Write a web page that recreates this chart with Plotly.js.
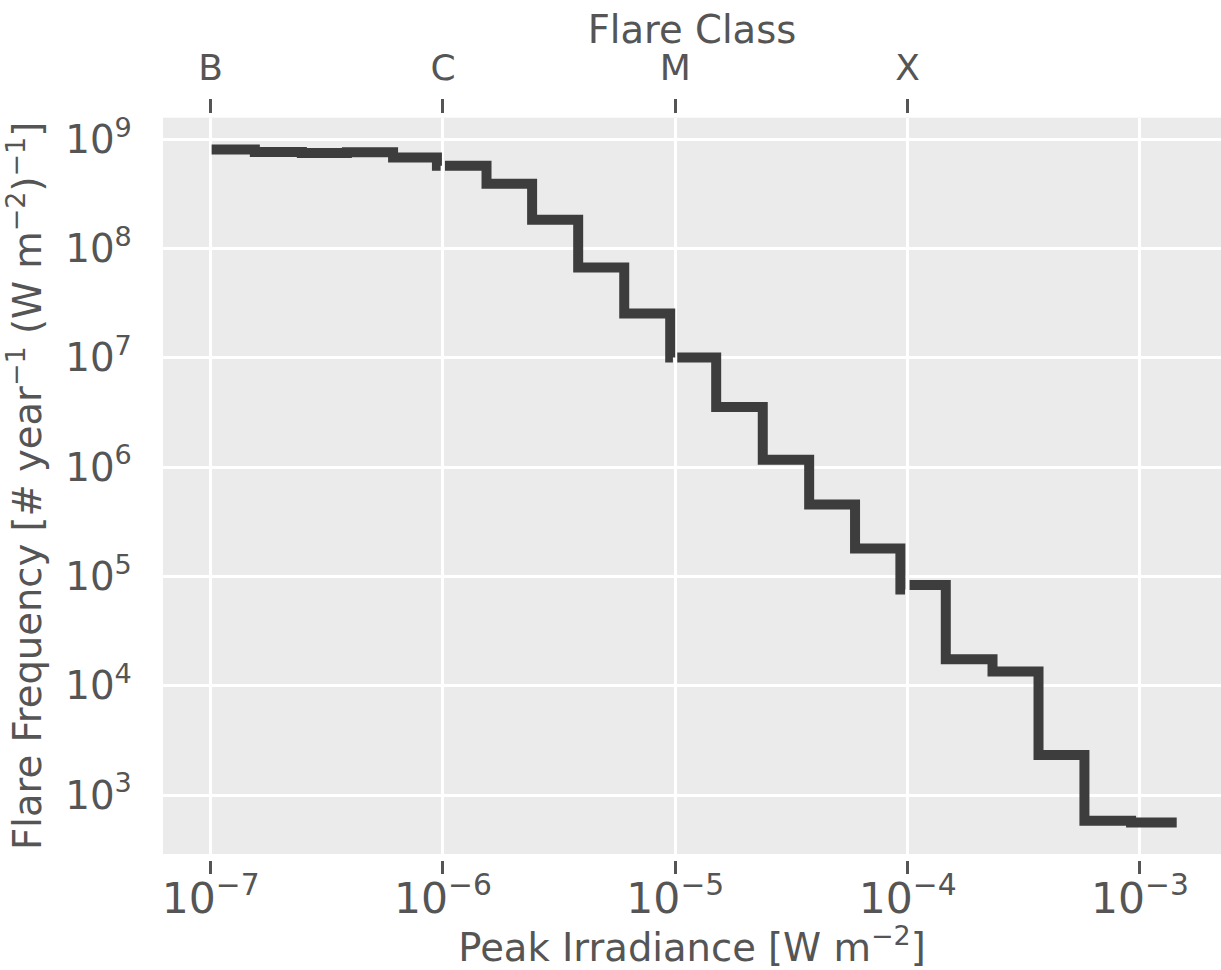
<!DOCTYPE html>
<html>
<head>
<meta charset="utf-8">
<script src="https://cdn.plot.ly/plotly-3.0.1.min.js"></script>
<style>html,body{margin:0;padding:0;background:#fff;}#chart{width:1221px;height:970px;}</style>
</head>
<body>
<div id="chart"></div>
<script>
// Peak irradiance bin edges (W m^-2) and flare frequency per class decade
var bEdges = [1.01e-7, 1.55e-7, 2.47e-7, 3.86e-7, 6.10e-7, 9.42e-7, 9.77e-7];
var bFreq  = [8.04e8, 7.66e8, 7.50e8, 7.61e8, 6.79e8, 5.73e8, 5.73e8];
var cEdges = [1.02e-6, 1.54e-6, 2.42e-6, 3.82e-6, 6.03e-6, 9.51e-6, 9.77e-6];
var cFreq  = [5.73e8, 3.91e8, 1.83e8, 6.71e7, 2.54e7, 1.01e7, 1.01e7];
var mEdges = [1.02e-5, 1.50e-5, 2.38e-5, 3.77e-5, 5.94e-5, 9.31e-5, 9.75e-5];
var mFreq  = [1.01e7, 3.56e6, 1.17e6, 4.56e5, 1.80e5, 7.6e4, 7.6e4];
var xEdges = [1.02e-4, 1.46e-4, 2.32e-4, 3.66e-4, 5.77e-4, 9.16e-4, 1.44e-3];
var xFreq  = [8.34e4, 1.75e4, 1.35e4, 2.33e3, 582, 562, 562];

var classVals = [1e-7, 1e-6, 1e-5, 1e-4];
var classLabels = ['B', 'C', 'M', 'X'];

var allX = [], allY = [];
[[bEdges, bFreq], [cEdges, cFreq], [mEdges, mFreq], [xEdges, xFreq]].forEach(function (s, i) {
  if (i > 0) { allX.push(null); allY.push(null); }
  allX = allX.concat(s[0]); allY = allY.concat(s[1]);
});

var xr = [-7.205, -2.651];
var traces = [
  {x: allX, y: allY, type: 'scatter', mode: 'lines', connectgaps: false,
   line: {shape: 'hv', width: 10, color: '#3d3d3d'}, hoverinfo: 'x+y'},
  {x: classVals, y: [1e9, 1e9, 1e9, 1e9], xaxis: 'x2', type: 'scatter', mode: 'markers',
   marker: {opacity: 0}, hoverinfo: 'skip', showlegend: false}
];

var tickCol = '#555555';
var txtCol = '#555555';
var layout = {
  width: 1221, height: 970,
  margin: {l: 163, r: 0, t: 113, b: 110, pad: 0},
  paper_bgcolor: '#ffffff', plot_bgcolor: '#EBEBEB',
  font: {family: 'DejaVu Sans', size: 36, color: txtCol},
  showlegend: false,
  title: {text: 'Flare Class', font: {size: 38.5, color: txtCol},
          x: 0.5, xref: 'paper', xanchor: 'center',
          y: 0.97, yref: 'container', yanchor: 'middle'},
  xaxis: {
    type: 'log', range: xr, anchor: 'free', position: 0, dtick: 1,
    exponentformat: 'power', showexponent: 'all',
    showgrid: true, gridcolor: '#ffffff', gridwidth: 3, zeroline: false, showline: false,
    ticks: 'outside', ticklen: 13, tickwidth: 3, tickcolor: tickCol,
    ticklabelstandoff: -10,
    tickfont: {size: 34, color: txtCol},
    title: {text: 'Peak Irradiance [W m<sup>−2</sup>]', font: {size: 38.5, color: txtCol}, standoff: 12},
    automargin: false
  },
  xaxis2: {
    type: 'log', range: xr, overlaying: 'x', side: 'top', anchor: 'free', position: 1,
    tickmode: 'array', tickvals: classVals, ticktext: classLabels,
    showgrid: false, zeroline: false, showline: false,
    ticks: 'outside', ticklen: 14, tickwidth: 3, tickcolor: tickCol,
    ticklabelstandoff: 5,
    tickfont: {size: 36, color: txtCol},
    automargin: false
  },
  yaxis: {
    type: 'log', range: [2.461, 9.197], domain: [0.00803, 0.9937], dtick: 1,
    exponentformat: 'power', showexponent: 'all',
    showgrid: true, gridcolor: '#ffffff', gridwidth: 3, zeroline: false, showline: false,
    ticks: 'outside', ticklen: 24, tickcolor: 'rgba(0,0,0,0)',
    tickfont: {size: 31, color: txtCol},
    title: {text: 'Flare Frequency [# year<sup>−1</sup> (W m<sup>−2</sup>)<sup>−1</sup>]', font: {size: 38.5, color: txtCol}, standoff: 13},
    automargin: false
  }
};

Plotly.newPlot('chart', traces, layout, {staticPlot: true, displayModeBar: false});
</script>
</body>
</html>
